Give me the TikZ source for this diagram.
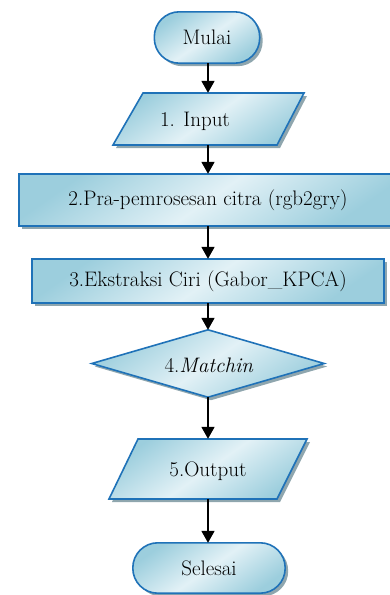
\documentclass[tikz,border=0pt]{standalone}
\usepackage{fontspec}
\usetikzlibrary{arrows.meta,shadows,shapes.geometric}
\definecolor{bordc}{HTML}{1F72B8}
\definecolor{darkf}{HTML}{9CCEDD}
\definecolor{lightf}{HTML}{E2F1F6}
\definecolor{shadc}{HTML}{8FA6AE}
\tikzset{
  x=1pt, y=-1pt,
  shapefill/.style={top color=darkf, bottom color=darkf, middle color=lightf, shading angle=35,
    drop shadow={shadow xshift=3pt, shadow yshift=-3pt, fill=shadc, opacity=1}},
  border/.style={draw=bordc, line width=1.6pt, line join=miter},
  anchorbox/.style={inner sep=0pt, draw=none, font=\fontsize{21}{24}\selectfont},
  terminal/.style={anchorbox},
  procbox/.style={anchorbox},
  flowarrow/.style={line width=1.8pt, -{Triangle[width=13pt,length=12pt]}}
}
\begin{document}
\begin{tikzpicture}
\useasboundingbox (0,0) rectangle (390,595);
% start terminal
\node[terminal, minimum width=105pt, minimum height=51pt] (mulai) at (207,37.5) {};
\path[shapefill, rounded corners=25pt] (mulai.south west) rectangle (mulai.north east);
\draw[border, rounded corners=25pt] (mulai.south west) rectangle (mulai.north east);
% input parallelogram
\node[anchorbox, minimum width=191pt, minimum height=52pt] (input) at (208,119) {};
\path[shapefill] (143,93) -- (304,93) -- (277,145) -- (113,145) -- cycle;
\draw[border] (143,93) -- (304,93) -- (277,145) -- (113,145) -- cycle;
% process boxes
\node[procbox, minimum width=378pt, minimum height=52pt] (pra) at (208,200) {};
\path[shapefill] (pra.south west) rectangle (pra.north east);
\draw[border] (pra.south west) rectangle (pra.north east);
\node[procbox, minimum width=352pt, minimum height=44pt] (ekstr) at (208,281) {};
\path[shapefill] (ekstr.south west) rectangle (ekstr.north east);
\draw[border] (ekstr.south west) rectangle (ekstr.north east);
% diamond
\node[anchorbox, minimum width=232pt, minimum height=67pt] (match) at (208,363.5) {};
\path[shapefill] (match.north) -- (match.east) -- (match.south) -- (match.west) -- cycle;
\draw[border] (match.north) -- (match.east) -- (match.south) -- (match.west) -- cycle;
% output parallelogram
\node[anchorbox, minimum width=198pt, minimum height=60pt] (output) at (208,469) {};
\path[shapefill] (138,439) -- (307,439) -- (277,499) -- (109,499) -- cycle;
\draw[border] (138,439) -- (307,439) -- (277,499) -- (109,499) -- cycle;
% end terminal
\node[terminal, minimum width=152pt, minimum height=50pt] (selesai) at (209,568) {};
\path[shapefill, rounded corners=25pt] (selesai.south west) rectangle (selesai.north east);
\draw[border, rounded corners=25pt] (selesai.south west) rectangle (selesai.north east);
% texts
\node[anchorbox] (mulaitxt) at (mulai) {Mulai};
\node[anchorbox] (inputtxt) at (195,121) {1. Input};
\node[anchorbox] (pratxt) at (pra) {2.Pra-pemrosesan citra (rgb2gry)};
\node[anchorbox] (ekstrtxt) at (ekstr) {3.Ekstraksi Ciri (Gabor\_KPCA)};
\node[anchorbox] (matchtxt) at (209,365) {4.\textit{Matchin}};
\node[anchorbox] (outputtxt) at (208,471) {5.Output};
\node[anchorbox] (selesaitxt) at (selesai) {Selesai};
% arrows
\draw[flowarrow] (mulai.south -| input) -- (input.north);
\draw[flowarrow] (input.south) -- (pra.north);
\draw[flowarrow] (pra.south) -- (ekstr.north);
\draw[flowarrow] (ekstr.south) -- (match.north);
\draw[flowarrow] (match.south) -- (output.north);
\draw[flowarrow] (output.south) -- (output.south |- selesai.north);
\end{tikzpicture}
\end{document}
